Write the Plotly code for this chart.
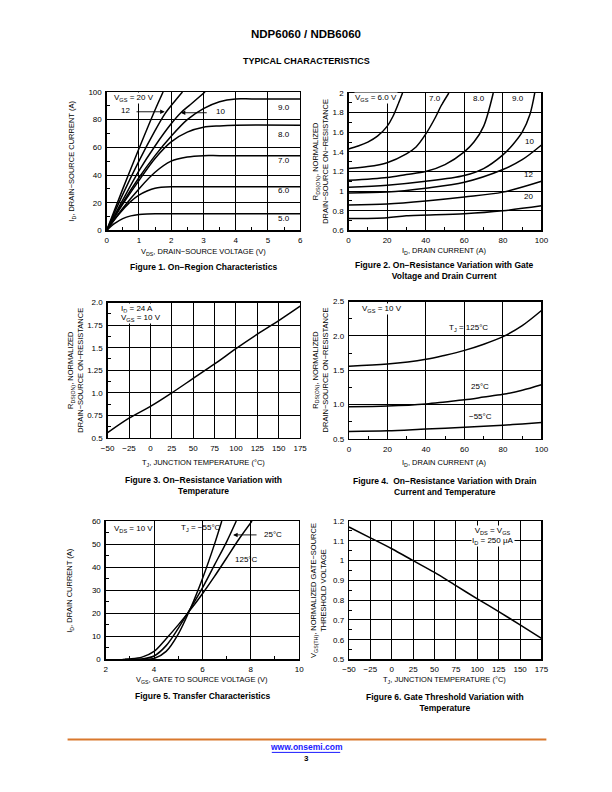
import numpy as np
import plotly.graph_objects as go

W, H = 612, 792
FONT = "Liberation Sans"

# ---------------- Figure 1 data: On-region characteristics ----------------
f1_vgs_labels = ["20", "12", "10", "9.0", "8.0", "7.0", "6.0", "5.0"]
f1_v20_x = [0, 0.5, 1.0, 1.5, 1.75]
f1_v20_y = [0, 30, 59, 87, 100]
f1_v12_x = [0, 0.5, 1.0, 1.5, 1.8, 2.1, 2.35]
f1_v12_y = [0, 26, 50, 72, 84, 93, 100]
f1_v10_x = [0, 0.5, 1.0, 1.5, 2.0, 2.3, 2.6, 3.05]
f1_v10_y = [0, 22, 43, 61, 77, 85, 91, 100]
f1_v9_x = [0, 0.5, 1.0, 1.5, 2.0, 2.5, 3.0, 3.5, 4.0, 4.5, 6.0]
f1_v9_y = [0, 20, 38, 54, 68, 80, 88, 93, 95, 95, 95]
f1_v8_x = [0, 0.5, 1.0, 1.5, 2.0, 2.5, 3.0, 3.5, 4.0, 6.0]
f1_v8_y = [0, 19, 36, 52, 64, 71, 74.5, 75.5, 76, 76]
f1_v7_x = [0, 0.5, 1.0, 1.5, 2.0, 2.5, 3.0, 3.5, 6.0]
f1_v7_y = [0, 16, 30, 42, 50, 53, 54, 54, 54]
f1_v6_x = [0, 0.25, 0.5, 0.75, 1.0, 1.25, 1.5, 2.0, 2.5, 6.0]
f1_v6_y = [0, 8, 15, 21, 25.5, 28.5, 30.5, 31.5, 31.5, 31.5]
f1_v5_x = [0, 0.25, 0.5, 0.75, 1.0, 1.25, 1.5, 2.0, 6.0]
f1_v5_y = [0, 5, 8.5, 10.5, 11.5, 11.9, 12, 12, 12]
f1_xticks = [0, 1, 2, 3, 4, 5, 6]
f1_yticks = [0, 20, 40, 60, 80, 100]

# ---------------- Figure 2 data: R vs ID and VGS ----------------
f2_v6_x = [0, 5, 10, 15, 20, 23, 26, 28]
f2_v6_y = [1.43, 1.46, 1.50, 1.56, 1.66, 1.76, 1.90, 2.0]
f2_v7_x = [0, 10, 20, 30, 35, 40, 45, 48, 52]
f2_v7_y = [1.23, 1.25, 1.29, 1.38, 1.45, 1.58, 1.75, 1.87, 2.0]
f2_v8_x = [0, 20, 30, 40, 50, 60, 65, 70, 75]
f2_v8_y = [1.11, 1.14, 1.17, 1.20, 1.27, 1.40, 1.50, 1.66, 2.0]
f2_v9_x = [0, 20, 40, 60, 70, 80, 85, 90, 94, 96.5]
f2_v9_y = [1.04, 1.06, 1.10, 1.16, 1.23, 1.37, 1.47, 1.60, 1.78, 2.0]
f2_v10_x = [0, 20, 40, 60, 80, 90, 100]
f2_v10_y = [0.98, 0.99, 1.03, 1.09, 1.22, 1.32, 1.47]
f2_v12_x = [0, 20, 40, 60, 80, 100]
f2_v12_y = [0.86, 0.87, 0.90, 0.94, 0.99, 1.10]
f2_v20_x = [0, 20, 30, 60, 80, 100]
f2_v20_y = [0.72, 0.73, 0.75, 0.77, 0.80, 0.85]
f2_xticks = [0, 20, 40, 60, 80, 100]
f2_yticks = [0.6, 0.8, 1.0, 1.2, 1.4, 1.6, 1.8, 2.0]

# ---------------- Figure 3 data: R vs temperature ----------------
f3_t = [-50, -25, 0, 25, 50, 75, 100, 125, 150, 175]
f3_r = [0.56, 0.72, 0.85, 1.0, 1.16, 1.32, 1.49, 1.65, 1.80, 1.96]
f3_xticks = [-50, -25, 0, 25, 50, 75, 100, 125, 150, 175]
f3_yticks = [0.5, 0.75, 1.0, 1.25, 1.5, 1.75, 2.0]
f3_yticktext = ["0.5", "0.75", "1.0", "1.25", "1.5", "1.75", "2.0"]

# ---------------- Figure 4 data: R vs ID and temperature ----------------
f4_id = [0, 20, 40, 50, 60, 70, 80, 90, 100]
f4_r125 = [1.56, 1.59, 1.66, 1.72, 1.79, 1.88, 1.99, 2.15, 2.37]
f4_r25 = [0.97, 0.98, 1.01, 1.04, 1.07, 1.11, 1.15, 1.21, 1.29]
f4_rm55 = [0.61, 0.62, 0.645, 0.655, 0.67, 0.685, 0.70, 0.72, 0.74]
f4_xticks = [0, 20, 40, 60, 80, 100]
f4_yticks = [0.5, 1.0, 1.5, 2.0, 2.5]
f4_yticktext = ["0.5", "1.0", "1.5", "2.0", "2.5"]

# ---------------- Figure 5 data: transfer characteristics ----------------
f5_m55_x = [2.8, 3.5, 4.0, 4.5, 5.0, 5.5, 6.0, 6.5, 6.8]
f5_m55_y = [0, 0.05, 0.4, 3.5, 11, 22, 35, 50, 60]
f5_25_x = [2.8, 3.5, 4.0, 4.5, 5.0, 5.5, 6.0, 6.5, 7.0, 7.4]
f5_25_y = [0, 0.2, 1.5, 6, 13.5, 22, 31, 41, 51, 60]
f5_125_x = [2.7, 3.0, 3.5, 4.0, 4.5, 5.0, 5.5, 6.0, 6.5, 7.0, 7.5, 8.05]
f5_125_y = [0, 0.2, 1.0, 3.5, 9, 15, 21.5, 28.5, 36, 44, 52, 60]
f5_xticks = [2, 4, 6, 8, 10]
f5_yticks = [0, 10, 20, 30, 40, 50, 60]

# ---------------- Figure 6 data: gate threshold vs temperature ----------------
f6_t = [-50, -25, 0, 25, 50, 75, 100, 125, 150, 175]
f6_v = [1.17, 1.115, 1.06, 1.0, 0.94, 0.873, 0.807, 0.742, 0.675, 0.607]
f6_xticks = [-50, -25, 0, 25, 50, 75, 100, 125, 150, 175]
f6_yticks = [0.5, 0.6, 0.7, 0.8, 0.9, 1.0, 1.1, 1.2]


def px(x):
    return x / W


def py(y):
    return 1 - y / H


def axis(xy, box, rng, tickvals, ticktext, minor_vals, anchor):
    x0, y0, x1, y1 = box
    dom = [px(x0), px(x1)] if xy == "x" else [py(y1), py(y0)]
    return dict(
        domain=dom, range=rng, anchor=anchor,
        showline=True, linecolor="black", linewidth=1.3, mirror=True,
        showgrid=True, gridcolor="black", gridwidth=1, zeroline=False,
        tickmode="array", tickvals=tickvals, ticktext=ticktext, ticks="",
        tickfont=dict(family=FONT, size=8, color="black"),
        ticklabelstandoff=2,
        minor=dict(tickmode="array", tickvals=minor_vals, ticks="inside",
                   ticklen=3, tickcolor="black", tickwidth=1, showgrid=False),
        fixedrange=True,
    )


def fmt(v):
    s = ("%g" % v)
    return s.replace("-", "\u2212")


boxes = {
    1: (102, 89, 300, 229),
    2: (349.5, 90, 547, 229),
    3: (103, 302, 300, 439),
    4: (350, 301, 547, 440),
    5: (101, 523, 299, 663),
    6: (350, 523, 547, 663),
}

layout = dict(width=W, height=H, margin=dict(l=0, r=0, t=0, b=0),
              paper_bgcolor="white", plot_bgcolor="white", showlegend=False,
              font=dict(family=FONT, color="black"))

specs = {
    1: ([0, 6], [0, 100], f1_xticks, [fmt(v) for v in f1_xticks], np.arange(0.5, 6, 1.0),
        f1_yticks, [fmt(v) for v in f1_yticks], np.arange(10, 100, 20)),
    2: ([0, 100], [0.6, 2.0], f2_xticks, [fmt(v) for v in f2_xticks], np.arange(10, 100, 20),
        f2_yticks, [fmt(v) for v in f2_yticks], np.arange(0.7, 2.0, 0.2)),
    3: ([-50, 175], [0.5, 2.0], f3_xticks, [fmt(v) for v in f3_xticks], [],
        f3_yticks, f3_yticktext, np.arange(0.625, 2.0, 0.25)),
    4: ([0, 100], [0.5, 2.5], f4_xticks, [fmt(v) for v in f4_xticks], np.arange(10, 100, 20),
        f4_yticks, f4_yticktext, np.arange(0.75, 2.5, 0.5)),
    5: ([2, 10], [0, 60], f5_xticks, [fmt(v) for v in f5_xticks], np.arange(3, 10, 2),
        f5_yticks, [fmt(v) for v in f5_yticks], np.arange(5, 60, 10)),
    6: ([-50, 175], [0.5, 1.2], f6_xticks, [fmt(v) for v in f6_xticks], [],
        f6_yticks, [fmt(v) for v in f6_yticks], np.arange(0.55, 1.2, 0.1)),
}

for i, (xr, yr, xt, xtt, xm, yt, ytt, ym) in specs.items():
    sfx = "" if i == 1 else str(i)
    layout["xaxis" + sfx] = axis("x", boxes[i], xr, xt, xtt, list(xm), "y" + sfx)
    layout["yaxis" + sfx] = axis("y", boxes[i], yr, yt, ytt, list(ym), "x" + sfx)

fig = go.Figure(layout=layout)


def curve(x, y, i):
    sfx = "" if i == 1 else str(i)
    fig.add_trace(go.Scatter(x=x, y=y, mode="lines", xaxis="x" + sfx, yaxis="y" + sfx,
                             line=dict(color="black", width=1.5, shape="spline", smoothing=0.9),
                             hoverinfo="skip"))


for xs, ys in [(f1_v20_x, f1_v20_y), (f1_v12_x, f1_v12_y), (f1_v10_x, f1_v10_y),
               (f1_v9_x, f1_v9_y), (f1_v8_x, f1_v8_y), (f1_v7_x, f1_v7_y),
               (f1_v6_x, f1_v6_y), (f1_v5_x, f1_v5_y)]:
    curve(xs, ys, 1)
for xs, ys in [(f2_v6_x, f2_v6_y), (f2_v7_x, f2_v7_y), (f2_v8_x, f2_v8_y),
               (f2_v9_x, f2_v9_y), (f2_v10_x, f2_v10_y), (f2_v12_x, f2_v12_y),
               (f2_v20_x, f2_v20_y)]:
    curve(xs, ys, 2)
curve(f3_t, f3_r, 3)
for ys in [f4_r125, f4_r25, f4_rm55]:
    curve(f4_id, ys, 4)
for xs, ys in [(f5_m55_x, f5_m55_y), (f5_25_x, f5_25_y), (f5_125_x, f5_125_y)]:
    curve(xs, ys, 5)
curve(f6_t, f6_v, 6)

ann = []


def txt(s, x, y, size=8, bold=False, xanchor="center", angle=0, bg=None, color="black"):
    if bold:
        s = "<b>" + s + "</b>"
    d = dict(text=s, x=px(x), y=py(y), xref="paper", yref="paper", showarrow=False,
             xanchor=xanchor, yanchor="middle", textangle=angle,
             font=dict(family=FONT, size=size, color=color), borderpad=0)
    if bg:
        d["bgcolor"] = bg
    ann.append(d)


def arrow(i, tip, tail):
    sfx = "" if i == 1 else str(i)
    ann.append(dict(text="", x=tip[0], y=tip[1], xref="x" + sfx, yref="y" + sfx,
                    ax=tail[0], ay=tail[1], axref="x" + sfx, ayref="y" + sfx,
                    showarrow=True, arrowhead=2, arrowsize=1, arrowwidth=0.9,
                    arrowcolor="black"))


# Page headers
txt("NDP6060 / NDB6060", 306, 30, size=11.5, bold=True)
txt("TYPICAL CHARACTERISTICS", 306, 58, size=9, bold=True)

# Figure 1 text
txt("V<sub>GS</sub> = 20 V", 108, 95, xanchor="left", bg="white")
txt("12", 121, 108)
arrow(1, (1.8, 85.7), (0.88, 85.7))
txt("10", 219, 109)
arrow(1, (2.3, 85), (3.15, 85))
for lab, yy in zip(f1_vgs_labels[3:], [105, 132, 158, 189, 217]):
    txt(lab, 283, yy)
txt("V<sub>DS</sub>, DRAIN\u2212SOURCE VOLTAGE (V)", 201, 251, size=7.5)
txt("I<sub>D</sub>, DRAIN\u2212SOURCE CURRENT (A)", 67, 159, size=7.5, angle=-90)
txt("Figure 1. On\u2212Region Characteristics", 201, 266, size=8.5, bold=True)

# Figure 2 text
txt("V<sub>GS</sub> = 6.0 V", 355, 95, xanchor="left", bg="white")
txt("7.0", 438, 96, bg="white")
txt("8.0", 483, 96)
txt("9.0", 523, 96)
txt("10", 535, 139)
txt("12", 534, 172)
txt("20", 534, 195)
txt("I<sub>D</sub>, DRAIN CURRENT (A)", 448, 250, size=7.5)
txt("R<sub>DS(ON)</sub>, NORMALIZED<br>DRAIN\u2212SOURCE ON\u2212RESISTANCE", 321, 159, size=7.5, angle=-90)
txt("Figure 2. On\u2212Resistance Variation with Gate<br>Voltage and Drain Current", 448, 270, size=8.5, bold=True)

# Figure 3 text
txt("I<sub>D</sub> = 24 A", 116, 309, xanchor="left", bg="white")
txt("V<sub>GS</sub> = 10 V", 116, 318, xanchor="left", bg="white")
txt("T<sub>J</sub>, JUNCTION TEMPERATURE (\u00b0C)", 201, 464, size=7.5)
txt("R<sub>DS(ON)</sub>, NORMALIZED<br>DRAIN\u2212SOURCE ON\u2212RESISTANCE", 70.5, 370, size=7.5, angle=-90)
txt("Figure 3. On\u2212Resistance Variation with<br>Temperature", 201, 487, size=8.5, bold=True)

# Figure 4 text
txt("V<sub>GS</sub> = 10 V", 362, 309, xanchor="left", bg="white")
txt("T<sub>J</sub> = 125\u00b0C", 472, 328)
txt("25\u00b0C", 484, 387)
txt("\u221255\u00b0C", 485, 417)
txt("I<sub>D</sub>, DRAIN CURRENT (A)", 448, 464, size=7.5)
txt("R<sub>DS(ON)</sub>, NORMALIZED<br>DRAIN\u2212SOURCE ON\u2212RESISTANCE", 321, 370, size=7.5, angle=-90)
txt("Figure 4.  On\u2212Resistance Variation with Drain<br>Current and Temperature", 448, 488, size=8.5, bold=True)

# Figure 5 text
txt("V<sub>DS</sub> = 10 V", 108, 531, xanchor="left", bg="white")
txt("T<sub>J</sub> = \u221255\u00b0C", 177, 530, xanchor="left")
txt("25\u00b0C", 262, 537, xanchor="left")
arrow(5, (7.27, 54), (8.3, 54))
txt("125\u00b0C", 232, 562, xanchor="left")
txt("V<sub>GS</sub>, GATE TO SOURCE VOLTAGE (V)", 200, 684, size=7.5)
txt("I<sub>D</sub>, DRAIN CURRENT (A)", 65, 593, size=7.5, angle=-90)
txt("Figure 5. Transfer Characteristics", 200, 700, size=8.5, bold=True)

# Figure 6 text
txt("V<sub>DS</sub> = V<sub>GS</sub><br>I<sub>D</sub> = 250 \u03bcA", 497, 538, bg="white")
txt("T<sub>J</sub>, JUNCTION TEMPERATURE (\u00b0C)", 448, 684, size=7.5)
txt("V<sub>GS(TH)</sub>, NORMALIZED GATE\u2212SOURCE<br>THRESHOLD VOLTAGE", 319, 593, size=7.5, angle=-90)
txt("Figure 6. Gate Threshold Variation with<br>Temperature", 448, 707, size=8.5, bold=True)

# Footer
txt("www.onsemi.com", 306, 752, size=8.5, bold=True, color="#1a1aff")
txt("3", 306, 763, size=8, bold=True)

fig.update_layout(annotations=ann)
fig.add_shape(type="line", xref="paper", yref="paper", x0=px(62), x1=px(552),
              y0=py(744), y1=py(744), line=dict(color="#D9782D", width=2))
fig.add_shape(type="line", xref="paper", yref="paper", x0=px(271), x1=px(341),
              y0=py(757), y1=py(757), line=dict(color="#1a1aff", width=1))

fig.write_html("out.html", config={"displayModeBar": False, "staticPlot": True},
               post_script="document.body.style.margin='0';document.body.style.overflow='hidden';")
